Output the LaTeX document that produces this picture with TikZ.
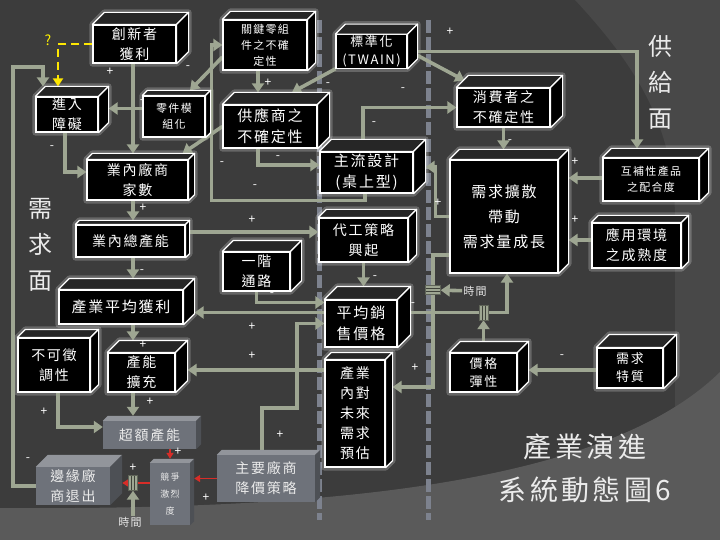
\documentclass[tikz,border=0pt]{standalone}
\usepackage{fontspec}
\setmainfont{Noto Sans CJK TC}[LetterSpace=12]
\usetikzlibrary{arrows.meta,calc}
\pgfdeclarelayer{bg}
\pgfdeclarelayer{back}
\pgfsetlayers{bg,back,main}
\definecolor{sage}{RGB}{158,166,146}
\definecolor{railcol}{RGB}{125,130,142}
\definecolor{bgdark}{RGB}{60,60,60}
\definecolor{bglite}{RGB}{72,72,72}
\definecolor{bgfloor}{RGB}{90,90,90}
\definecolor{boxgrey}{RGB}{110,114,122}
\definecolor{redarr}{RGB}{215,45,40}

\newcommand{\boxcube}[8][]{%
  \node[#2, minimum width=#5pt, minimum height=#6pt, #1] (#3) at (#4) {#8};
  \begin{pgfonlayer}{back}
    \draw[#2 glow] (#3.south west) -- (#3.north west) -- ++(#7,-#7)
      -- ([shift={(#7,-#7)}]#3.north east) -- ([shift={(#7,-#7)}]#3.south east)
      -- (#3.south east) -- cycle;
  \end{pgfonlayer}
  \path[#2 top] (#3.north west) -- ++(#7,-#7) -- ([shift={(#7,-#7)}]#3.north east) -- (#3.north east) -- cycle;
  \path[#2 side] (#3.north east) -- ++(#7,-#7) -- ([shift={(#7,-#7)}]#3.south east) -- (#3.south east) -- cycle;
  \coordinate (#3-top) at ([yshift=#7pt]#3.north);
  \coordinate (#3-right) at ([xshift=#7pt]#3.east);
}

\begin{document}
\begin{tikzpicture}[x=1pt, y=-1pt,
  blk/.style={draw=white, fill=black, line width=1.2pt, text=white, align=center, inner sep=1pt},
  blk top/.style={draw=white, fill=black!85!white, line width=1.2pt, line join=round},
  blk side/.style={draw=white, fill=black, line width=1.2pt, line join=round},
  blk glow/.style={draw=white, draw opacity=0.22, line width=6pt, line join=round},
  gry/.style={fill=boxgrey, text=white!92!black, align=center, inner sep=1pt},
  gry top/.style={fill=boxgrey!75!white},
  gry side/.style={fill=boxgrey!70!black},
  gry glow/.style={draw=none},
  t9/.style={font=\fontsize{9}{17}\selectfont},
  t11/.style={font=\fontsize{11}{16}\selectfont},
  t13/.style={font=\fontsize{13}{18}\selectfont},
  t14/.style={font=\fontsize{14}{20}\selectfont},
  t15/.style={font=\fontsize{15}{21}\selectfont},
  t15d/.style={font=\fontsize{15}{25}\selectfont},
  flow/.style={draw=sage, line width=3.6pt, -{Triangle[length=9pt,width=12pt]}},
  redflow/.style={draw=redarr, line width=1.8pt, -{Triangle[length=6pt,width=7pt]}},
  rail/.style={draw=railcol, line width=5pt, dash pattern=on 13pt off 4pt},
  sign/.style={text=white, font=\fontsize{12}{12}\selectfont, inner sep=0pt},
  tlabel/.style={text=white!90!black, font=\fontsize{11}{11}\selectfont, inner sep=1pt},
  side label/.style={text=white!92!black, align=center, font=\fontsize{24}{36}\selectfont},
  delay/.style={draw=sage!60!black, fill=sage, minimum width=9pt, minimum height=15pt, inner sep=0pt,
    path picture={\draw[sage!40!black, line width=0.8pt]
      ([xshift=-1.5pt]path picture bounding box.north) -- ([xshift=-1.5pt]path picture bounding box.south)
      ([xshift=1.5pt]path picture bounding box.north) -- ([xshift=1.5pt]path picture bounding box.south);}},
  delayv/.style={draw=sage!60!black, fill=sage, minimum width=15pt, minimum height=9pt, inner sep=0pt,
    path picture={\draw[sage!40!black, line width=0.8pt]
      ([yshift=-1.5pt]path picture bounding box.west) -- ([yshift=-1.5pt]path picture bounding box.east)
      ([yshift=1.5pt]path picture bounding box.west) -- ([yshift=1.5pt]path picture bounding box.east);}}
]
\useasboundingbox (0,0) rectangle (720,540);
\begin{pgfonlayer}{bg}
  \fill[bgdark] (0,0) rectangle (720,540);
  \fill[bglite] (575,0) .. controls (640,70) and (675,130) .. (675,220) -- (675,420) -- (720,420) -- (720,0) -- cycle;
  \fill[bgfloor] (0,508) .. controls (300,510) and (600,490) .. (720,372) -- (720,540) -- (0,540) -- cycle;
\end{pgfonlayer}
\begin{pgfonlayer}{back}
  \draw[rail] (319,20) -- (319,520);
  \draw[rail] (428,20) -- (428,520);
\end{pgfonlayer}

\boxcube[t14]{blk}{innov}{134.5,44}{83}{38}{12}{創新者\\獲利}
\boxcube[t14]{blk}{barrier}{67,114.5}{62}{35}{10}{進入\\障礙}
\boxcube[t11]{blk}{modular}{174,116.5}{62}{41}{5}{零件模\\組化}
\boxcube[t11]{blk}{keycomp}{265,45}{84}{50}{8}{關鍵零組\\件之不確\\定性}
\boxcube[t13]{blk}{std}{371.5,51.5}{71}{33}{10}{標準化\\(TWAIN)}
\boxcube[t15]{blk}{supunc}{270,126.5}{94}{43}{12}{供應商之\\不確定性}
\boxcube[t15]{blk}{mainstream}{366.5,172.5}{93}{41}{12}{主流設計\\(桌上型)}
\boxcube[t14]{blk}{consunc}{503.5,107.5}{93}{39}{12}{消費者之\\不確定性}
\boxcube[t15d]{blk}{diffusion}{504,216.5}{108}{113}{10}{需求擴散\\帶動\\需求量成長}
\boxcube[t11]{blk}{complement}{651,179.5}{96}{43}{9}{互補性產品\\之配合度}
\boxcube[t14]{blk}{appenv}{636.5,245.5}{89}{45}{7}{應用環境\\之成熟度}
\boxcube[t14]{blk}{numfirms}{137.5,180}{101}{40}{6}{業內廠商\\家數}
\boxcube[t14]{blk}{totcap}{130.5,241}{109}{32}{4}{業內總產能}
\boxcube[t15]{blk}{avgprofit}{121,307}{124}{34}{11}{產業平均獲利}
\boxcube[t14]{blk}{channel}{256.5,271.5}{67}{39}{11}{一階\\通路}
\boxcube[t14]{blk}{oem}{363.5,240}{89}{44}{8}{代工策略\\興起}
\boxcube[t15]{blk}{avgprice}{361,323.5}{72}{47}{13}{平均銷\\售價格}
\boxcube[t14]{blk}{forecast}{355,413.5}{60}{107}{7}{產業\\內對\\未來\\需求\\預估}
\boxcube[t13]{blk}{elastic}{483.5,372.5}{67}{39}{11}{價格\\彈性}
\boxcube[t13]{blk}{demchar}{630,368}{66}{40}{13}{需求\\特質}
\boxcube[t14]{blk}{irrev}{54,365}{72}{54}{8}{不可徵\\調性}
\boxcube[t14]{blk}{expand}{141.5,372.5}{67}{39}{12}{產能\\擴充}
\boxcube[t14]{gry}{excess}{149.5,435}{93}{28}{5}{超額產能}
\boxcube[t14]{gry}{exit}{73,486}{74}{38}{12}{邊緣廠\\商退出}
\boxcube[t9]{gry}{compete}{170,494}{40}{62}{4}{競爭\\激烈\\度}
\boxcube[t14]{gry}{pricecut}{266,478.5}{98}{47}{5}{主要廠商\\降價策略}

\node[delay] (delayA) at (133,483) {};
\node[delay] (delayB) at (483.5,312.5) {};
\node[delayv] (delayC) at (433,290) {};
\node[tlabel] (time1) at (130,522) {時間};
\node[tlabel] (time2) at (475,291) {時間};
\coordinate (spine) at (133,0);
\coordinate (loop) at (13,67);

\begin{pgfonlayer}{back}
  \draw[dashed, draw=yellow!90!orange, line width=2.2pt, dash pattern=on 8pt off 5pt,
    -{Triangle[length=8pt,width=10pt]}] (innov.west) -| ([xshift=-9pt]barrier-top);
  \draw[flow] (innov.south -| spine) -- (spine |- numfirms-top);
  \draw[flow] ([yshift=-12pt]keycomp.west) -- ([shift={(16,-5)}]modular.north);
  \draw[flow] ([yshift=8pt]modular.west) -- ([yshift=8pt]modular.west -| barrier-right);
  \draw[flow] ([xshift=-2pt]barrier.south) |- ([yshift=8pt]numfirms.west);
  \draw[flow] (exit.west) -| (loop) -| ([xshift=-24pt]barrier-top);
  \draw[flow] (spine |- numfirms.south) -- (spine |- totcap-top);
  \draw[flow] (spine |- totcap.south) -- (spine |- avgprofit-top);
  \draw[flow] (spine |- avgprofit.south) -- (spine |- expand-top);
  \draw[flow] (spine |- expand.south) -- (spine |- excess-top);
  \draw[flow] ([xshift=4pt]irrev.south) |- ([yshift=8pt]excess.west);
  \draw[redflow] (compete-top |- excess.south) -- (compete-top);
  \draw[redflow] (pricecut.west) -- (pricecut.west -| compete-right);
  \draw[redarr, line width=1.8pt] ([yshift=11pt]compete.west) -- (delayA);
  \draw[redflow] (delayA) -- (delayA -| exit-right);
  \draw[flow] (time1.north -| delayA) -- (delayA);
  \draw[flow] ([yshift=9pt]totcap.east) -- ([yshift=9pt]totcap.east -| oem.west);
  \draw[flow] (channel.south) |- ([yshift=21pt]avgprice.west);
  \draw[flow] ([yshift=11pt]avgprice.west) -- ([yshift=11pt]avgprice.west -| avgprofit-right);
  \draw[flow] ([xshift=-4pt]pricecut-top) -- ++(0,-42) -- ++(35,0) |- (avgprice.west);
  \draw[flow] ([yshift=43.5pt]forecast.west) -- ([yshift=43.5pt]forecast.west -| expand-right);
  \draw[flow] (oem.south) -- (oem.south |- avgprice-top);
  \draw[sage, line width=3.6pt] ([shift={(13,-11)}]avgprice.east) -- (delayB);
  \draw[flow] (delayB) -| ([xshift=3pt]diffusion.south);
  \draw[flow] (elastic-top) -- (delayB);
  \draw[sage, line width=3.6pt] ([yshift=-38.5pt]diffusion.west) -| (delayC);
  \draw[flow] (delayC) |- ([yshift=26.5pt]forecast-right);
  \draw[flow] (time2) -- (delayC);
  \draw[flow] (consunc.south) -- (consunc.south |- diffusion-top);
  \draw[flow] ([yshift=-4pt]std-right) -- ([shift={(8,-7)}]consunc.north west);
  \draw[flow] (std-right) -| ([xshift=-14pt]complement-top);
  \draw[flow] ([xshift=-3.5pt]mainstream-top) |- (consunc.west);
  \draw[flow] (std.south west) -- ([xshift=22pt]supunc-top);
  \draw[flow] ([xshift=-7pt]keycomp.south) -- ([xshift=-7pt]keycomp.south |- supunc-top);
  \draw[flow] ([xshift=-12pt]supunc.south) |- ([yshift=7.5pt]mainstream.west);
  \draw[flow] (supunc.west) -- ([shift={(-6,-6)}]numfirms.north east);
  \draw[flow] ([xshift=-1.5pt]mainstream.south) -- ++(0,7) -| ([xshift=-11pt]keycomp.west) -- (keycomp.west);
  \draw[flow] (diffusion.west) -- ++(-14,0) |- ([yshift=5.5pt]mainstream-right);
  \draw[flow] ([yshift=1.5pt]complement.west) -- ([yshift=1.5pt]complement.west -| diffusion-right);
  \draw[flow] ([yshift=5.5pt]appenv.west) -- ([yshift=5.5pt]appenv.west -| diffusion-right);
  \draw[flow] ([yshift=-2pt]demchar.west) -- ([yshift=-2pt]demchar.west -| elastic-right);
\end{pgfonlayer}

\foreach \x/\y/\s [count=\i] in {110/72/+, 188/68/-, 142/102/-, 52/148/-, 143/208/+, 142/272/-,
    143/345/+, 150/402/+, 44/412/+, 28/460/-, 178/452/+, 133/468/+, 206/498/+, 268/83/+,
    328/85/-, 278/158/-, 222/164/-, 255/187/-, 252/220/+, 272/295/-, 252/327/+, 252/356/+,
    280/435/+, 375/278/-, 413/305/-, 415/368/+, 438/203/+, 374/124/-, 403/90/-, 450/32/+,
    510/142/-, 575/162/+, 575/220/+, 562/357/-}
  \node[sign] (sign\i) at (\x,\y) {\s};

\node[text=yellow, font=\fontsize{14}{14}\selectfont] (query) at (48,40) {?};
\node[side label] (demand) at (40,245) {需\\求\\面};
\node[side label] (supply) at (660,82) {供\\給\\面};
\node[text=white!92!black, align=center, font=\fontsize{28}{43}\selectfont] (title) at (585,468) {產業演進\\系統動態圖6};
\end{tikzpicture}
\end{document}
